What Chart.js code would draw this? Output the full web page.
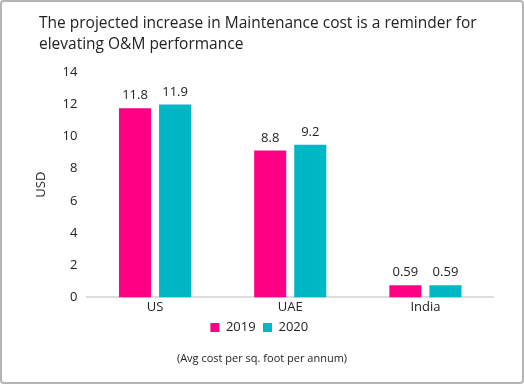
<!DOCTYPE html>
<html>
<head>
<meta charset="utf-8">
<script src="https://cdn.jsdelivr.net/npm/chart.js@4"></script>
<style>
  html, body { margin: 0; padding: 0; background: #fff; }
  #frame { position: relative; width: 524px; height: 384px; box-sizing: border-box; border: 2px solid #b5b5b5; border-radius: 4px; }
  #chart { position: absolute; left: 0; top: 0; }
  .txt { position: absolute; font-family: "Open Sans", sans-serif; color: #222; white-space: nowrap; }
  #title { left: 39px; top: 12px; font-size: 15.5px; line-height: 21px; }
  #note { left: 0; width: 524px; top: 350px; text-align: center; font-size: 11px; }
</style>
</head>
<body>
<div id="frame"></div>
<canvas id="chart" width="524" height="384"></canvas>
<div id="title" class="txt">The projected increase in Maintenance cost is a reminder for<br>elevating O&amp;M performance</div>
<div id="note" class="txt">(Avg cost per sq. foot per annum)</div>
<script>
const categories = ["US", "UAE", "India"];
const seriesNames = ["2019", "2020"];
const values2019 = [11.75, 9.12, 0.76];
const values2020 = [11.98, 9.48, 0.76];
const labels2019 = ["11.8", "8.8", "0.59"];
const labels2020 = ["11.9", "9.2", "0.59"];
const yTicks = [0, 2, 4, 6, 8, 10, 12, 14];

const pink = "#ff0084";
const teal = "#00b7c6";
const font = "'Open Sans', sans-serif";

const valueLabels = {
  id: "valueLabels",
  afterDatasetsDraw(chart) {
    const ctx = chart.ctx;
    const texts = [labels2019, labels2020];
    ctx.save();
    ctx.font = "13px " + font;
    ctx.fillStyle = "#222";
    ctx.textAlign = "center";
    ctx.textBaseline = "bottom";
    chart.data.datasets.forEach((ds, i) => {
      chart.getDatasetMeta(i).data.forEach((bar, j) => {
        ctx.fillText(texts[i][j], bar.x, bar.y - 6);
      });
    });
    ctx.restore();
  }
};

new Chart(document.getElementById("chart"), {
  type: "bar",
  data: {
    labels: categories,
    datasets: [
      { label: seriesNames[0], data: values2019, backgroundColor: pink },
      { label: seriesNames[1], data: values2020, backgroundColor: teal },
    ],
  },
  options: {
    responsive: false,
    animation: false,
    layout: { padding: { top: 72, left: 29, right: 31, bottom: 40 } },
    datasets: { bar: { categoryPercentage: 0.593, barPercentage: 0.8 } },
    scales: {
      x: {
        grid: { display: false, drawTicks: false },
        border: { color: "#dcdcdc", width: 2 },
        ticks: { color: "#222", font: { family: font, size: 13 }, padding: 2 },
      },
      y: {
        min: 0,
        max: yTicks[yTicks.length - 1],
        afterBuildTicks: (axis) => { axis.ticks = yTicks.map((v) => ({ value: v })); },
        grid: { display: false, drawTicks: false },
        border: { display: false },
        ticks: { color: "#222", font: { family: font, size: 13 }, padding: 10 },
        title: { display: true, text: "USD", color: "#222", font: { family: font, size: 13 }, padding: 4 },
      },
    },
    plugins: {
      legend: {
        position: "bottom",
        labels: {
          boxWidth: 9,
          boxHeight: 9,
          color: "#222",
          font: { family: font, size: 13 },
          padding: 4,
          // a trailing space widens the gap between the two legend items
          generateLabels: (chart) =>
            Chart.defaults.plugins.legend.labels.generateLabels(chart).map((l) => ({ ...l, text: l.text + " " })),
        },
      },
      tooltip: { enabled: false },
    },
  },
  plugins: [valueLabels],
});
</script>
</body>
</html>
